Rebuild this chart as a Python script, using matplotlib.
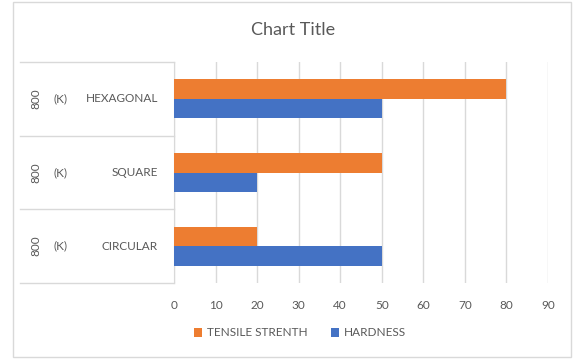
import numpy as np
import matplotlib
matplotlib.use("Agg")
import matplotlib.pyplot as plt
from matplotlib.patches import Rectangle
import matplotlib.transforms as mtransforms

plt.rcParams['font.family'] = ['Lato', 'DejaVu Sans']

# data (bottom to top, as drawn)
shapes = ["CIRCULAR", "SQUARE", "HEXAGONAL"]
temps = ["800", "800", "800"]
units = ["(K)", "(K)", "(K)"]
tensile = [20, 50, 80]
hardness = [50, 20, 50]
xticks = [0, 10, 20, 30, 40, 50, 60, 70, 80, 90]

orange = "#ED7D31"
blue = "#4472C4"
grid_c = "#D9D9D9"
text_c = "#595959"

W, H = 573, 360
fig = plt.figure(figsize=(W / 100, H / 100), dpi=100)

# outer chart frame
fig.patches.append(Rectangle((13 / W, 1 - 357 / H), (571 - 13) / W, (357 - 2) / H,
                             transform=fig.transFigure, fill=False,
                             edgecolor=grid_c, linewidth=1))

left, right, top, bottom = 174, 548, 62, 283
ax = fig.add_axes([left / W, 1 - bottom / H, (right - left) / W, (bottom - top) / H])

y = np.arange(len(shapes)) + 0.5
h = 0.265
ax.barh(y + h / 2, tensile, height=h, color=orange, label="TENSILE STRENTH", zorder=3)
ax.barh(y - h / 2, hardness, height=h, color=blue, label="HARDNESS", zorder=3)

ax.set_xlim(0, 90)
ax.set_ylim(0, 3)
ax.set_xticks(xticks)
ax.set_xticklabels([str(v) for v in xticks], color=text_c, fontsize=8.5)
ax.tick_params(axis='x', length=0, pad=12)
ax.set_yticks([])
ax.grid(axis='x', color=grid_c, linewidth=1, zorder=0)
for s in ["top", "right", "bottom"]:
    ax.spines[s].set_visible(False)
ax.spines["left"].set_color(grid_c)

# multi-level category labels with separators
trans = mtransforms.blended_transform_factory(ax.transAxes, ax.transData)
x0 = (20 - left) / (right - left)
for yy in [0, 1, 2, 3]:
    ax.plot([x0, 0], [yy, yy], transform=trans, color=grid_c, lw=1, clip_on=False)
for i in range(len(shapes)):
    ax.text((36 - left) / (right - left), y[i], temps[i], transform=trans, rotation=90,
            ha='center', va='center', fontsize=8.5, color=text_c)
    ax.text((61 - left) / (right - left), y[i], units[i], transform=trans,
            ha='center', va='center', fontsize=8.5, color=text_c)
    ax.text((158 - left) / (right - left), y[i], shapes[i], transform=trans,
            ha='right', va='center', fontsize=8.5, color=text_c)

fig.text(293 / W, 1 - 30 / H, "Chart Title", ha='center', va='center',
         fontsize=13, color=text_c)

fig.legend(loc='center', bbox_to_anchor=(300 / W, 1 - 333 / H), ncol=2, frameon=False,
           fontsize=8.5, handlelength=0.7, handleheight=0.7, columnspacing=2,
           handletextpad=0.4, labelcolor=text_c)

fig.savefig("out.png", dpi=100)
